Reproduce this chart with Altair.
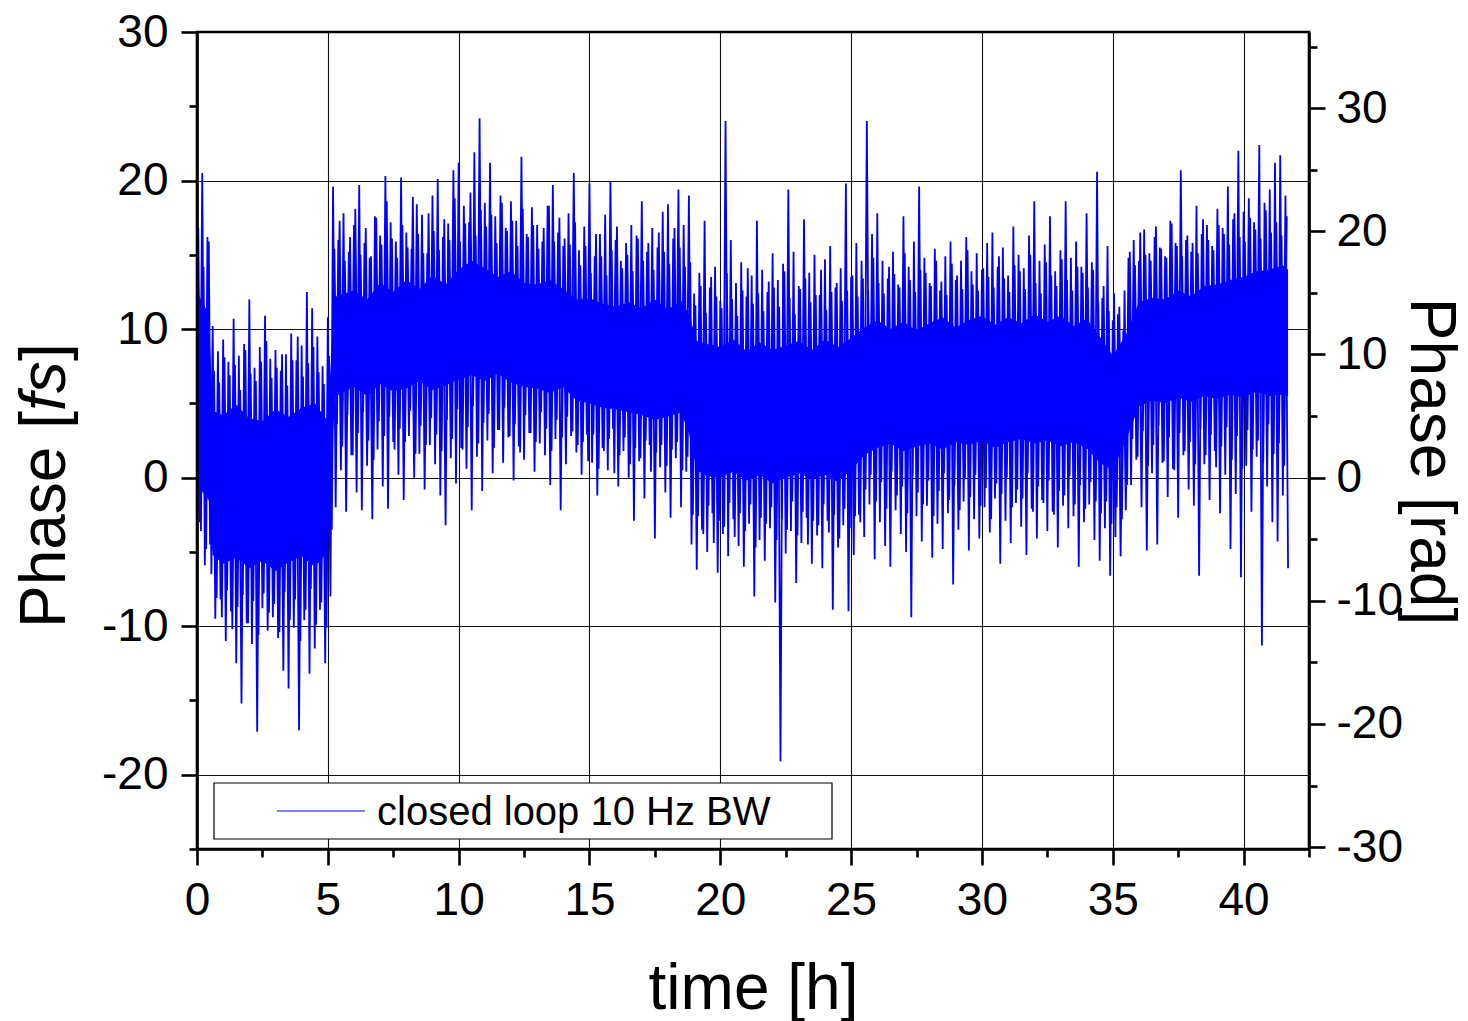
import altair as alt
import pandas as pd

# ---------------- data ----------------
STEP_H = 0.1          # each trace alternates peak / trough every 0.1 h
# trace A: upper excursions at t = 0.0, 0.2, 0.4, ... h   (fs)
PEAKS_A = [
    15.0, 20.5, 16.2, 10.2, 8.5, 9.3, 7.8, 10.7, 8.2, 9.0,
    12.0, 7.4, 8.8, 10.9, 8.0, 8.6, 7.2, 8.3, 9.7, 7.9,
    8.9, 12.5, 11.4, 9.5, 7.5, 10.8, 19.6, 16.0, 17.8, 15.2,
    17.0, 19.7, 15.8, 14.8, 17.6, 16.3, 20.3, 17.2, 15.9, 20.2,
    16.5, 15.4, 18.4, 17.7, 15.1, 19.0, 20.1, 16.2, 17.1, 20.7,
    21.2, 18.3, 17.2, 21.9, 24.2, 18.5, 21.2, 17.6, 19.0, 16.8,
    18.6, 17.3, 21.6, 16.4, 18.2, 17.0, 15.9, 18.3, 19.7, 16.5,
    15.6, 17.8, 20.5, 15.3, 16.9, 19.8, 14.9, 16.4, 17.7, 19.9,
    16.0, 14.6, 15.8, 17.0, 16.3, 18.6, 15.2, 16.8, 15.5, 17.9,
    18.4, 16.1, 19.4, 17.0, 19.0, 12.4, 13.8, 17.3, 12.8, 14.2,
    11.9, 24.0, 16.0, 13.1, 14.5, 12.2, 13.6, 17.3, 14.0, 12.5,
    15.1, 13.3, 14.4, 19.4, 15.2, 12.9, 17.4, 13.8, 15.0, 12.3,
    14.7, 15.6, 12.8, 14.1, 19.8, 13.5, 15.8, 14.6, 24.0, 16.4,
    17.8, 14.6, 13.4, 15.2, 13.0, 17.6, 14.2, 15.9, 19.6, 14.8,
    13.1, 15.4, 12.6, 14.9, 15.9, 13.3, 14.6, 16.2, 13.9, 15.1,
    14.0, 15.8, 16.5, 14.2, 15.5, 13.6, 16.9, 15.0, 14.1, 16.3,
    18.6, 14.6, 15.7, 17.6, 13.9, 15.3, 18.6, 14.8, 15.9, 14.2,
    17.8, 14.5, 20.6, 12.1, 15.6, 10.6, 11.0, 9.9, 14.8, 16.0,
    14.6, 16.7, 15.1, 16.2, 15.5, 14.9, 17.3, 15.8, 20.7, 16.0,
    15.2, 18.3, 16.4, 17.0, 15.6, 18.1, 16.8, 19.6, 17.4, 22.0,
    17.9, 18.8, 17.2, 22.4, 18.5, 19.4, 21.2, 21.7, 19.0,
]
# trace A: lower excursions at t = 0.1, 0.3, 0.5, ... h   (fs)
TROUGHS_A = [
    -3.0, -5.9, -4.5, -9.5, -8.2, -11.0, -9.0, -12.5, -15.2, -9.8,
    -11.2, -17.1, -8.8, -10.3, -9.4, -10.8, -13.0, -14.2, -10.1, -17.0,
    -9.6, -13.2, -11.5, -8.9, -12.5, -8.0, -2.0, 0.5, -2.3, 1.5,
    -1.0, -2.2, 0.8, -2.8, 1.9, -0.6, -2.1, 2.4, 0.2, -1.5,
    2.8, 0.0, 1.6, -0.8, 2.2, 0.9, -1.2, -3.2, 1.3, -0.4,
    2.0, 0.6, -2.2, 1.4, -0.9, 2.5, 0.3, 3.2, 1.0, 2.7,
    -0.2, 2.1, 1.2, 3.0, 0.4, 2.3, 1.5, -0.5, 2.6, -2.2,
    0.9, 2.8, 1.7, 0.2, 2.9, 1.0, -1.2, 2.0, 0.5, 3.3,
    -0.6, 1.8, 0.0, -2.9, 1.1, -1.4, 2.2, -4.1, 0.7, -1.0,
    -2.7, 1.3, -2.0, 0.4, -4.5, -6.2, -3.5, -5.0, -2.4, -6.4,
    -3.8, -5.3, -2.8, -4.6, -6.0, -3.1, -8.0, -4.2, -5.6, -3.4,
    -8.4, -19.1, -5.1, -3.6, -7.1, -4.4, -2.7, -5.8, -3.9, -6.1,
    -2.9, -8.9, -4.7, -3.2, -9.0, -5.2, -2.5, -4.0, -1.8, -5.5,
    -3.0, -4.6, -6.0, -2.2, -3.8, -5.0, -9.4, -2.6, -4.3, -1.9,
    -5.4, -3.1, -4.8, -2.4, -7.2, -3.5, -1.6, -4.9, -2.8, -4.1,
    -2.0, -3.7, -1.4, -5.8, -2.9, -4.4, -1.7, -3.3, -5.2, -2.1,
    -4.1, -1.5, -3.6, -2.3, -4.7, -1.9, -3.4, -2.6, -6.0, -3.0,
    -1.8, -4.2, -5.6, -3.4, -6.6, -4.0, -5.3, -2.2, -0.5, 1.2,
    -2.0, -4.9, 0.3, -4.5, 1.0, -1.3, 0.6, -2.7, 1.5, -0.8,
    -1.9, -6.6, 0.9, -1.5, 1.8, -2.4, 0.2, -4.8, -1.1, -6.7,
    0.8, -2.3, 1.4, -11.3, -0.6, -3.0, -4.3, -1.2, -6.1,
]
# trace B (in between): upper excursions at t = 0.05, 0.25, 0.45, ... h   (fs)
PEAKS_B = [
    16.8, 14.2, 15.9,
    7.2, 6.4, 8.1, 6.9, 7.6, 5.9, 8.6, 7.0, 6.5, 7.8, 9.2, 6.7, 7.4, 8.3, 6.2, 7.9,
    9.5, 6.8, 7.7, 8.8, 7.1, 6.3,
    8.2,
    15.4, 17.3, 14.6, 16.2, 18.1, 15.0, 16.8, 14.9, 17.5, 15.7, 18.6, 16.1, 14.8, 17.0,
    15.5, 18.9, 16.4, 15.1, 17.8, 16.6, 15.3,
    17.4, 16.0, 18.8, 15.9, 17.1, 19.2, 16.3, 18.0, 16.9, 17.7, 15.8, 18.5, 16.6, 17.3,
    15.6, 18.1, 16.2, 17.0, 15.4, 16.8, 18.3, 15.9, 17.5, 16.1, 15.7, 17.2,
    14.3, 15.6, 13.8, 16.4, 14.9, 13.6, 15.3, 16.9, 14.1, 15.0, 13.9, 16.1, 14.6, 15.8,
    14.0, 16.5, 15.2, 14.4, 16.8, 15.5, 14.2,
    14.5,
    11.6, 12.9, 11.1, 13.5, 12.2, 11.4, 13.8, 12.0, 10.9, 12.6, 14.1, 11.7, 12.4, 11.2,
    13.2, 12.8, 11.5, 13.9, 12.1, 11.0, 12.7, 13.4, 11.8, 12.3, 14.0, 11.3, 12.5, 13.1,
    11.9, 12.6, 13.6, 12.2,
    13.4, 12.6, 14.8, 13.1, 12.4, 14.2, 13.7, 12.8, 15.1, 13.3, 12.5, 14.0, 13.8, 12.9,
    14.6, 13.2, 12.3, 14.4, 13.6, 12.7, 15.3, 13.0, 12.6, 14.1, 13.5, 12.8, 14.9, 13.4,
    12.5, 14.3, 13.9, 12.7, 15.0, 13.1, 12.4, 14.5, 13.6, 12.9, 14.7, 13.3, 12.6, 14.2,
    13.8, 12.8, 14.0,
    11.8, 12.9, 11.2, 12.4, 11.5, 12.6,
    15.2, 14.3, 16.5, 15.0, 14.6, 16.9, 15.4, 14.8, 17.1, 15.6, 14.9, 16.3, 15.8, 15.1,
    17.4, 16.0, 15.3, 17.0, 16.4, 15.7, 17.8, 16.2, 15.9, 17.5, 16.7, 16.1, 18.0, 16.5,
    17.2, 16.3, 17.6,
]
# trace B: lower excursions at t = 0.15, 0.35, 0.55, ... h   (fs)
TROUGHS_B = [
    -3.6, -4.8, -6.5,
    -8.1, -9.4, -7.6, -10.2, -8.7, -7.9, -9.8, -8.3, -10.6, -7.8, -9.1, -8.5, -10.4, -7.7,
    -9.6, -8.2, -11.0, -8.9, -7.5, -9.9, -8.4, -10.1,
    -3.5,
    3.6, 2.1, 4.2, 1.5, 3.0, 4.4, 2.5, 1.2, 3.8, 2.8, 4.1, 1.9, 3.3, 2.4, 4.5, 1.6, 3.5,
    2.2, 4.0, 2.9, 1.8,
    3.9, 2.6, 4.6, 1.9, 3.4, 4.8, 2.3, 3.7, 4.3, 2.0, 3.2, 4.7, 2.8, 3.6, 1.7, 4.2, 3.0,
    2.4, 4.4, 3.3, 1.8, 3.9, 2.7, 4.1, 3.1, 2.2,
    2.4, 1.1, 2.9, 0.6, 1.8, 2.6, 0.3, 1.5, 2.7, 0.9, 2.0, 1.3, 2.5, 0.4, 1.7, 2.2, 0.8,
    1.9, 2.4, 0.5, 1.4,
    -2.5,
    -2.6, -3.8, -1.9, -4.4, -2.9, -3.3, -1.7, -4.0, -2.4, -3.6, -1.8, -4.7, -2.7, -3.1,
    -2.0, -4.2, -2.8, -3.5, -1.6, -3.9, -2.3, -4.5, -2.9, -3.2, -1.8, -3.7, -2.5, -4.1,
    -2.1, -3.4, -2.6, -3.0,
    -0.8, 0.2, -1.6, -0.3, -2.1, 0.4, -1.2, -0.6, -2.4, 0.1, -1.0, -1.8, -0.2, -2.6,
    -0.9, 0.3, -1.5, -0.5, -2.2, -0.1, -1.3, 0.2, -1.9, -0.7, -2.8, -0.4, -1.1, 0.0,
    -2.0, -0.8, -1.4, 0.3, -2.3, -0.6, -1.7, -0.2, -2.5, -0.9, -1.2, 0.1, -1.8, -0.5,
    -2.1, -0.3, -1.6,
    -2.4, -1.6, -3.1, -2.0, -2.8, -0.5,
    2.6, 1.4, 3.1, 0.8, 2.2, 3.5, 1.1, 2.7, 0.5, 3.0, 1.8, 2.4, 0.9, 3.3, 1.5, 2.9, 0.7,
    2.1, 3.4, 1.2, 2.8, 0.6, 3.2, 1.9, 2.5, 1.0, 3.6, 1.6, 2.3, 0.8,
]
# the completely filled core of the noise band (fs)
CORE_T = [0.0, 0.45, 0.6, 1.0, 1.5, 2.0, 2.5, 3.0, 3.5, 4.0, 4.5, 5.0, 5.15, 5.3,
          6.0, 6.5, 7.0, 7.5, 8.0, 8.5, 9.0, 9.5, 10.0, 10.5, 11.0, 11.5, 12.0, 12.5,
          13.0, 13.5, 14.0, 14.5, 15.0, 15.5, 16.0, 16.5, 17.0, 17.5, 18.0, 18.5, 18.8,
          19.1, 19.5, 20.0, 20.5, 21.0, 21.5, 22.0, 22.5, 23.0, 23.5, 24.0, 24.5, 25.0,
          25.5, 26.0, 26.5, 27.0, 27.5, 28.0, 28.5, 29.0, 29.5, 30.0, 30.5, 31.0, 31.5,
          32.0, 32.5, 33.0, 33.5, 34.0, 34.5, 35.0, 35.5, 36.0, 36.5, 37.0, 37.5, 38.0,
          38.5, 39.0, 39.5, 40.0, 40.5, 41.0, 41.5, 41.7]
CORE_HI = [12.5, 11.0, 4.5, 4.2, 4.9, 4.0, 3.8, 4.6, 4.1, 4.7, 5.0, 3.8, 9.0, 12.2,
           12.6, 12.0, 13.1, 12.5, 13.3, 12.7, 13.6, 13.0, 14.0, 14.6, 14.1, 13.5, 13.9, 13.1,
           13.0, 13.3, 12.7, 12.0, 12.1, 11.7, 11.5, 11.8, 11.4, 12.0, 11.3, 11.9, 11.0,
           9.2, 9.0, 8.8, 9.3, 8.5, 9.1, 8.6, 8.9, 9.2, 8.6, 9.3, 8.8, 9.4,
           10.1, 10.6, 10.0, 10.5, 9.9, 10.4, 10.8, 10.1, 10.6, 10.9, 10.3, 10.8, 10.4,
           11.0, 10.5, 10.9, 10.2, 10.7, 9.5, 8.2, 9.6, 11.8, 12.1, 12.0, 12.6, 12.2,
           12.9, 13.0, 13.3, 13.5, 13.9, 14.0, 14.3, 14.0]
CORE_LO = [-0.5, -1.5, -5.2, -5.8, -5.4, -6.1, -5.6, -6.3, -5.7, -5.3, -6.0, -5.0, 2.0, 5.5,
           6.1, 5.5, 6.3, 5.8, 6.0, 6.5, 5.9, 6.2, 6.6, 6.9, 6.5, 7.0, 6.4, 6.1,
           6.0, 5.7, 6.1, 5.2, 5.0, 4.7, 4.6, 4.4, 4.2, 3.9, 4.1, 4.4, 3.0,
           0.5, 0.1, 0.0, 0.4, -0.2, 0.2, -0.4, 0.0, 0.3, -0.1, 0.2, -0.3, 0.5,
           1.5, 2.0, 2.3, 1.8, 2.1, 2.3, 1.9, 2.4, 2.2, 2.5, 2.0, 2.4, 2.6,
           2.3, 2.5, 2.1, 2.4, 2.0, 1.0, 0.5, 2.5, 4.8, 5.2, 5.0, 5.4, 5.1,
           5.5, 5.3, 5.6, 5.4, 5.8, 5.5, 5.6, 5.5]

X_MAJOR = [0, 5, 10, 15, 20, 25, 30, 35, 40]
X_MINOR = [2.5, 7.5, 12.5, 17.5, 22.5, 27.5, 32.5, 37.5, 42.5]
FS_MAJOR = [-20, -10, 0, 10, 20, 30]
FS_MINOR = [-25, -15, -5, 5, 15, 25]
RAD_MAJOR = [-30, -20, -10, 0, 10, 20, 30]
RAD_MINOR = [-25, -15, -5, 5, 15, 25, 35]
X_RANGE = [0, 42.5]
FS_RANGE = [-25, 30]
RAD_PER_FS = 1.206
LEGEND_LABEL = "closed loop 10 Hz BW"

assert len(PEAKS_A) == len(TROUGHS_A) == 209
assert len(PEAKS_B) == 209 and len(TROUGHS_B) == 208
assert len(CORE_T) == len(CORE_HI) == len(CORE_LO)


def zigzag(peaks, troughs, t0):
    ts, vs = [], []
    for k, p in enumerate(peaks):
        ts.append(round(t0 + 2 * k * STEP_H, 3))
        vs.append(p)
        if k < len(troughs):
            ts.append(round(t0 + (2 * k + 1) * STEP_H, 3))
            vs.append(troughs[k])
    return ts, vs


ta, va = zigzag(PEAKS_A, TROUGHS_A, 0.0)
tb, vb = zigzag(PEAKS_B, TROUGHS_B, 0.05)
trace = pd.DataFrame({"time": ta + tb, "phase": va + vb,
                      "part": ["a"] * len(ta) + ["b"] * len(tb)})
core = pd.DataFrame({"t": CORE_T, "hi": CORE_HI, "lo": CORE_LO})
one = pd.DataFrame({"label": [LEGEND_LABEL]})

# ---------------- styling ----------------
FONT = "Liberation Sans"
BLUE = "#0000ff"
W, H = 1112, 817
LBL = 46
TTL = 64
FRAME = 2.6

xs = alt.Scale(domain=X_RANGE, nice=False, zero=False)
fs_s = alt.Scale(domain=FS_RANGE, nice=False, zero=False)
rad_s = alt.Scale(domain=[FS_RANGE[0] * RAD_PER_FS, FS_RANGE[1] * RAD_PER_FS], nice=False, zero=False)

plain = "toString(datum.value)"

# grid only (behind the data)
grid_layer = alt.Chart(core).mark_line(opacity=0).encode(
    x=alt.X("t:Q", scale=xs, axis=alt.Axis(
        values=X_MAJOR[1:], grid=True, gridColor="#111111", gridWidth=1.1,
        ticks=False, labels=False, domain=False, title="", zindex=0)),
    y=alt.Y("hi:Q", scale=fs_s, axis=alt.Axis(
        orient="left", values=FS_MAJOR[:-1], grid=True, gridColor="#111111", gridWidth=1.1,
        ticks=False, labels=False, domain=False, title="", zindex=0)),
)

core_layer = alt.Chart(core).mark_area(color=BLUE, opacity=1).encode(
    x=alt.X("t:Q", scale=xs, axis=None),
    y=alt.Y("hi:Q", scale=fs_s, axis=None),
    y2="lo:Q",
)

line_layer = alt.Chart(trace).mark_line(color=BLUE, strokeWidth=1.8).encode(
    x=alt.X("time:Q", scale=xs, axis=alt.Axis(
        orient="bottom", values=X_MAJOR, grid=False, tickSize=16, tickWidth=FRAME,
        tickColor="black", domain=True, domainColor="black", domainWidth=FRAME,
        labelFontSize=LBL, labelFont=FONT, labelColor="black", labelPadding=13,
        labelFlush=False, labelOverlap=False, labelExpr=plain,
        title="time [h]", titleFontSize=TTL, titleFont=FONT, titleFontWeight="normal",
        titleColor="black", titleX=W / 2, titleY=159, titleAlign="center",
        titleBaseline="alphabetic", zindex=1)),
    y=alt.Y("phase:Q", scale=fs_s, axis=alt.Axis(
        orient="left", values=FS_MAJOR, grid=False, tickSize=16, tickWidth=FRAME,
        tickColor="black", domain=True, domainColor="black", domainWidth=FRAME,
        labelFontSize=LBL, labelFont=FONT, labelColor="black", labelPadding=13,
        labelFlush=False, labelOverlap=False, labelExpr=plain, title="", zindex=1)),
    detail="part:N",
)

minor_layer = alt.Chart(core).mark_line(opacity=0).encode(
    x=alt.X("t:Q", scale=xs, axis=alt.Axis(
        orient="bottom", values=X_MINOR, tickSize=8, tickWidth=FRAME, tickColor="black",
        labels=False, domain=False, grid=False, title="", zindex=1)),
    y=alt.Y("hi:Q", scale=fs_s, axis=alt.Axis(
        orient="left", values=FS_MINOR, tickSize=8, tickWidth=FRAME, tickColor="black",
        labels=False, domain=False, grid=False, title="", zindex=1)),
)

rad_base = alt.Chart(core).transform_calculate(rad=f"datum.hi * {RAD_PER_FS}")

rad_layer = rad_base.mark_line(opacity=0).encode(
    x=alt.X("t:Q", scale=xs, axis=None),
    y=alt.Y("rad:Q", scale=rad_s, axis=alt.Axis(
        orient="right", values=RAD_MAJOR, grid=False, tickSize=16, tickWidth=FRAME,
        tickColor="black", domain=True, domainColor="black", domainWidth=FRAME,
        labelFontSize=LBL, labelFont=FONT, labelColor="black", labelPadding=11,
        labelFlush=False, labelOverlap=False, labelExpr=plain,
        title="Phase [rad]", titleFontSize=TTL, titleFont=FONT, titleFontWeight="normal",
        titleColor="black", titleAngle=90, titleX=101, titleY=429, titleAlign="center",
        titleBaseline="alphabetic", zindex=1)),
)

rad_minor_layer = rad_base.mark_line(opacity=0).encode(
    x=alt.X("t:Q", scale=xs, axis=None),
    y=alt.Y("rad:Q", scale=rad_s, axis=alt.Axis(
        orient="right", values=RAD_MINOR, tickSize=8, tickWidth=FRAME, tickColor="black",
        labels=False, domain=False, grid=False, title="", zindex=1)),
)

# legend box
leg_box = alt.Chart(one).mark_rect(fill="white", stroke="black", strokeWidth=1.2).encode(
    x=alt.value(17), x2=alt.value(635), y=alt.value(751), y2=alt.value(807))
leg_line = alt.Chart(one).mark_rule(color=BLUE, strokeWidth=1).encode(
    x=alt.value(80), x2=alt.value(168), y=alt.value(779))
leg_text = alt.Chart(one).mark_text(
    align="left", baseline="alphabetic", fontSize=40, font=FONT, color="black"
).encode(x=alt.value(180), y=alt.value(793), text="label:N")

# left axis title with italic unit
t1 = alt.Chart(one).mark_text(angle=270, align="left", baseline="alphabetic",
                              fontSize=TTL, font=FONT, color="black").encode(
    x=alt.value(-132), y=alt.value(596), text=alt.value("Phase ["))
t2 = alt.Chart(one).mark_text(angle=270, align="left", baseline="alphabetic",
                              fontSize=TTL, font=FONT, fontStyle="italic", color="black").encode(
    x=alt.value(-132), y=alt.value(379), text=alt.value("fs"))
t3 = alt.Chart(one).mark_text(angle=270, align="left", baseline="alphabetic",
                              fontSize=TTL, font=FONT, color="black").encode(
    x=alt.value(-132), y=alt.value(329), text=alt.value("]"))

chart = alt.layer(
    grid_layer, core_layer, line_layer, minor_layer, rad_layer, rad_minor_layer,
    leg_box, leg_line, leg_text, t1, t2, t3,
).resolve_scale(y="independent").resolve_axis(x="independent", y="independent").properties(
    width=W, height=H,
    padding={"left": 197, "top": 32, "right": 159, "bottom": 172},
    autosize=alt.AutoSizeParams(type="none"),
).configure(font=FONT, background="white").configure_view(stroke="black", strokeWidth=FRAME)

chart.save("out.html", embed_options={"renderer": "svg", "actions": False})
